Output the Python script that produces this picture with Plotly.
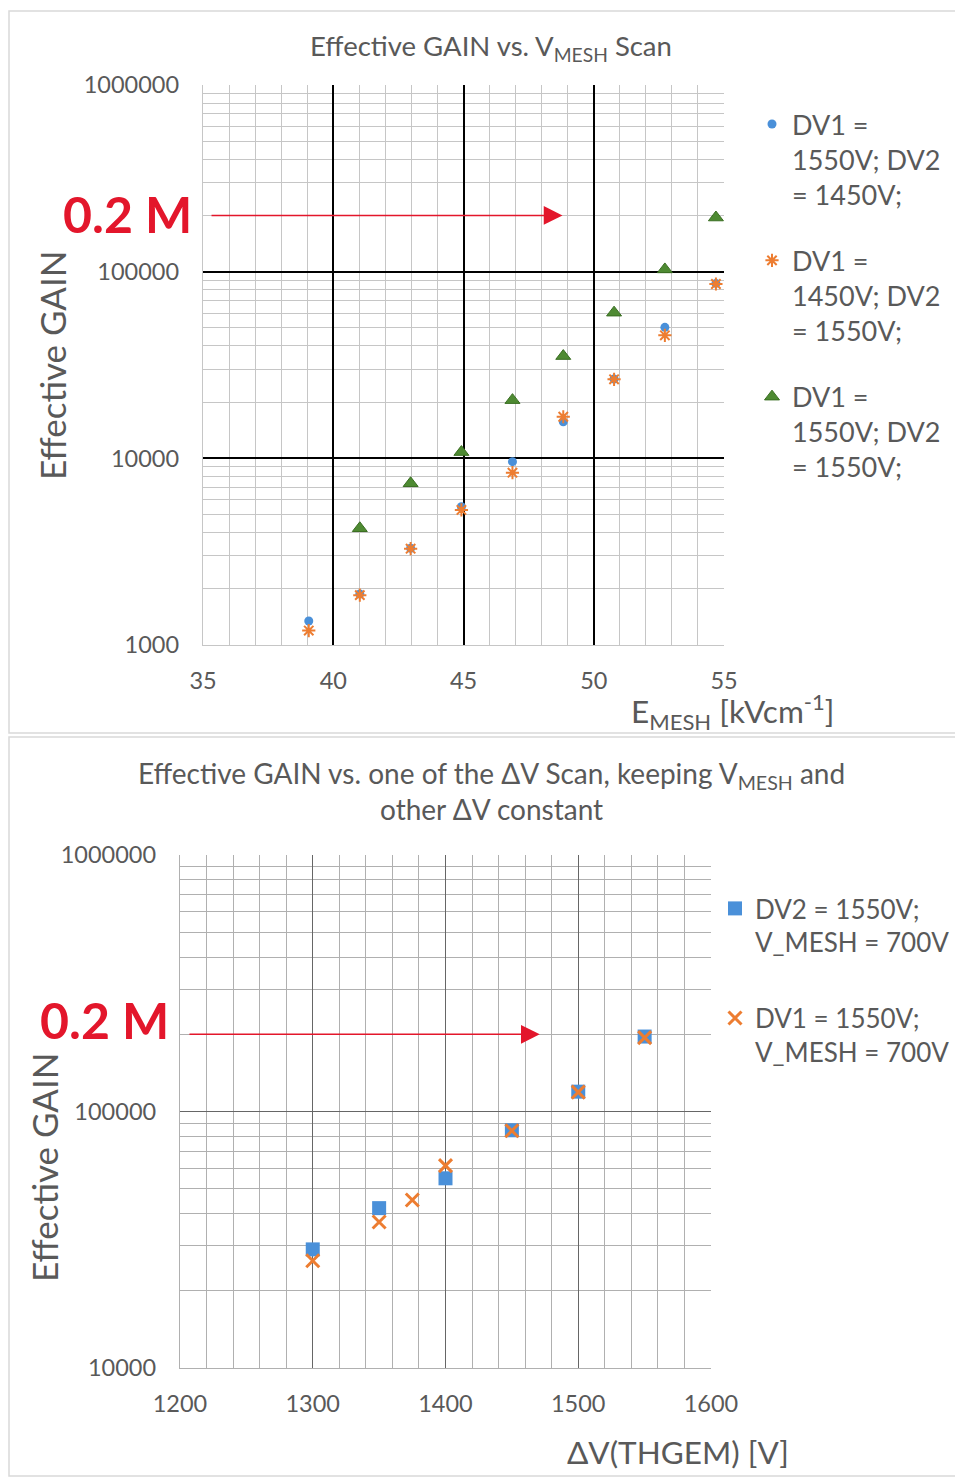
import math
import plotly.graph_objects as go

# ---------------- data: top chart (gain vs E_MESH) ----------------
e_mesh = [39.06, 41.02, 42.97, 44.92, 46.88, 48.83, 50.78, 52.73, 54.69]
gain_a = [1345, 1875, 3300, 5500, 9600, 15700, 26600, 50300, 86500]      # DV1=1550V; DV2=1450V
gain_b = [1195, 1850, 3280, 5290, 8380, 16700, 26500, 45600, 85900]      # DV1=1450V; DV2=1550V
e_mesh_c = [41.02, 42.97, 44.92, 46.88, 48.83, 50.78, 52.73, 54.69]
gain_c = [4220, 7350, 10800, 20500, 35300, 60300, 102800, 195000]        # DV1=1550V; DV2=1550V

name_a = "DV1 =<br>1550V; DV2<br>= 1450V;"
name_b = "DV1 =<br>1450V; DV2<br>= 1550V;"
name_c = "DV1 =<br>1550V; DV2<br>= 1550V;"

top_xticks = [35, 40, 45, 50, 55]
top_yticks = [1000, 10000, 100000, 1000000]
top_ylabels = ["1000", "10000", "100000", "1000000"]

# ---------------- data: bottom chart (gain vs delta V) ----------------
dv_blue = [1300, 1350, 1400, 1450, 1500, 1550]
gain_blue = [29000, 42000, 54900, 84500, 119500, 196000]                 # DV2=1550V; V_MESH=700V
dv_orange = [1300, 1350, 1375, 1400, 1450, 1500, 1550]
gain_orange = [26200, 37100, 45200, 61500, 84100, 119000, 194000]        # DV1=1550V; V_MESH=700V

name_blue = "DV2 = 1550V;<br>V_MESH = 700V"
name_orange = "DV1 = 1550V;<br>V_MESH = 700V"

bot_xticks = [1200, 1300, 1400, 1500, 1600]
bot_yticks = [10000, 100000, 1000000]
bot_ylabels = ["10000", "100000", "1000000"]

ref_gain = 200000  # 0.2 M

# ---------------- figure ----------------
OFF = 8                      # page body margin
W, H = 963 - OFF, 1477 - OFF
FONT = "Lato"
GREY = "#595959"
BLUE = "#4a90d9"
ORANGE = "#ed7d31"
GREEN = "#4e8a32"
RED = "#e3162b"

def px(x):
    return (x - OFF) / W

def py(y):
    return 1 - (y - OFF) / H

def log_minor(d0, d1):
    return [k * 10 ** d for d in range(d0, d1) for k in range(2, 10)]

fig = go.Figure()

fig.add_trace(go.Scatter(x=e_mesh, y=gain_a, mode="markers", name=name_a,
                         marker=dict(symbol="circle", size=9, color=BLUE), cliponaxis=False,
                         xaxis="x", yaxis="y", legend="legend", legendgroup="a"))
fig.add_trace(go.Scatter(x=e_mesh, y=gain_b, mode="markers", name=name_b,
                         marker=dict(symbol="asterisk-open", size=11, color=ORANGE,
                                     line=dict(color=ORANGE, width=2)), cliponaxis=False,
                         xaxis="x", yaxis="y", legend="legend", legendgroup="b"))
fig.add_trace(go.Scatter(x=e_mesh_c, y=gain_c, mode="markers", name=name_c,
                         marker=dict(symbol="triangle-up", size=13, color=GREEN,
                                     line=dict(color="#3a6e22", width=1)), cliponaxis=False,
                         xaxis="x", yaxis="y", legend="legend", legendgroup="c"))

fig.add_trace(go.Scatter(x=dv_blue, y=gain_blue, mode="markers", name=name_blue,
                         marker=dict(symbol="square", size=14, color=BLUE), cliponaxis=False,
                         xaxis="x2", yaxis="y2", legend="legend2", legendgroup="d"))
fig.add_trace(go.Scatter(x=dv_orange, y=gain_orange, mode="markers", name=name_orange,
                         marker=dict(symbol="x-thin-open", size=13, color=ORANGE,
                                     line=dict(color=ORANGE, width=3)), cliponaxis=False,
                         xaxis="x2", yaxis="y2", legend="legend2", legendgroup="e"))

tickfont = dict(family=FONT, size=23.5, color=GREY)

xcommon = dict(ticks="", zeroline=False, tickfont=tickfont, ticklabelstandoff=15,
               automargin=False, showline=True)
ycommon = dict(ticks="", zeroline=False, tickfont=tickfont, ticklabelstandoff=18,
               automargin=False, showline=True)

fig.update_layout(
    width=W, height=H,
    margin=dict(l=0, r=0, t=0, b=0, autoexpand=False),
    paper_bgcolor="white", plot_bgcolor="white",
    font=dict(family=FONT, color=GREY),
    xaxis=dict(domain=[px(203), px(724)], range=[35, 55], anchor="y",
               tickmode="array", tickvals=top_xticks,
               showgrid=True, gridcolor="#000000", gridwidth=1.6,
               minor=dict(tickvals=list(range(36, 55)), showgrid=True,
                          gridcolor="#c6c6c6", gridwidth=1.4),
               linecolor="#c6c6c6", linewidth=1.4, **xcommon),
    yaxis=dict(domain=[py(645), py(85)], type="log", range=[3, 6], anchor="x",
               tickmode="array", tickvals=top_yticks, ticktext=top_ylabels,
               showgrid=True, gridcolor="#000000", gridwidth=1.6,
               minor=dict(tickvals=log_minor(3, 6), showgrid=True,
                          gridcolor="#c6c6c6", gridwidth=1.4),
               linecolor="#c6c6c6", linewidth=1.4, **ycommon),
    xaxis2=dict(domain=[px(180), px(711)], range=[1200, 1600], anchor="y2",
                tickmode="array", tickvals=bot_xticks,
                showgrid=True, gridcolor="#666666", gridwidth=1.3,
                minor=dict(tickvals=list(range(1220, 1600, 20)), showgrid=True,
                           gridcolor="#b0b0b0", gridwidth=1.2),
                linecolor="#b0b0b0", linewidth=1.3, **xcommon),
    yaxis2=dict(domain=[py(1368), py(855)], type="log", range=[4, 6], anchor="x2",
                tickmode="array", tickvals=bot_yticks, ticktext=bot_ylabels,
                showgrid=True, gridcolor="#666666", gridwidth=1.3,
                minor=dict(tickvals=log_minor(4, 6), showgrid=True,
                           gridcolor="#b0b0b0", gridwidth=1.2),
                linecolor="#b0b0b0", linewidth=1.3, **ycommon),
    legend=dict(x=px(752), y=py(100), xanchor="left", yanchor="top",
                font=dict(family=FONT, size=27, color=GREY),
                bgcolor="rgba(0,0,0,0)", traceorder="grouped", tracegroupgap=28,
                valign="top", itemwidth=30),
    legend2=dict(x=px(715), y=py(885), xanchor="left", yanchor="top",
                 font=dict(family=FONT, size=26, color=GREY),
                 bgcolor="rgba(0,0,0,0)", traceorder="grouped", tracegroupgap=39,
                 valign="top", itemwidth=30),
    showlegend=True,
)

# panel frames
fig.add_shape(type="rect", xref="paper", yref="paper",
              x0=px(9), x1=px(962), y0=py(733), y1=py(11),
              line=dict(color="#d9d9d9", width=1.5), layer="below")
fig.add_shape(type="rect", xref="paper", yref="paper",
              x0=px(9), x1=px(962), y0=py(1476), y1=py(737),
              line=dict(color="#d9d9d9", width=1.5), layer="below")

ann = []
ann.append(dict(text="Effective GAIN vs. V<sub>MESH</sub> Scan", x=px(491), y=py(47),
                font=dict(size=27.5)))
ann.append(dict(text="Effective GAIN", x=px(52), y=py(365), textangle=-90,
                font=dict(size=35)))
ann.append(dict(text="E<sub>MESH</sub> [kVcm<sup>-1</sup>]", x=px(732), y=py(712),
                font=dict(size=31.5)))
ann.append(dict(text="<b>0.2 M</b>", x=px(127), y=py(214),
                font=dict(size=50, color=RED)))
ann.append(dict(text="Effective GAIN vs. one of the ΔV Scan, keeping V<sub>MESH</sub> and<br>other ΔV constant",
                x=px(491), y=py(791), font=dict(size=28)))
ann.append(dict(text="Effective GAIN", x=px(44), y=py(1167), textangle=-90,
                font=dict(size=35)))
ann.append(dict(text="ΔV(THGEM) [V]", x=px(678), y=py(1452),
                font=dict(size=31.5)))
ann.append(dict(text="<b>0.2 M</b>", x=px(104), y=py(1020),
                font=dict(size=50, color=RED)))
for a in ann:
    a.update(xref="paper", yref="paper", showarrow=False, xanchor="center", yanchor="middle")
    a["font"].setdefault("family", FONT)
    a["font"].setdefault("color", GREY)
    fig.add_annotation(**a)

# red arrows at 0.2 M
fig.add_annotation(x=48.8, y=math.log10(ref_gain), ax=35.27, ay=math.log10(ref_gain),
                   xref="x", yref="y", axref="x", ayref="y", text="", showarrow=True,
                   arrowhead=2, arrowsize=2.5, arrowwidth=1.5, arrowcolor=RED, standoff=0)
fig.add_annotation(x=1471, y=math.log10(ref_gain), ax=1206, ay=math.log10(ref_gain),
                   xref="x2", yref="y2", axref="x2", ayref="y2", text="", showarrow=True,
                   arrowhead=2, arrowsize=2.5, arrowwidth=1.5, arrowcolor=RED, standoff=0)

fig.write_html("out.html")
